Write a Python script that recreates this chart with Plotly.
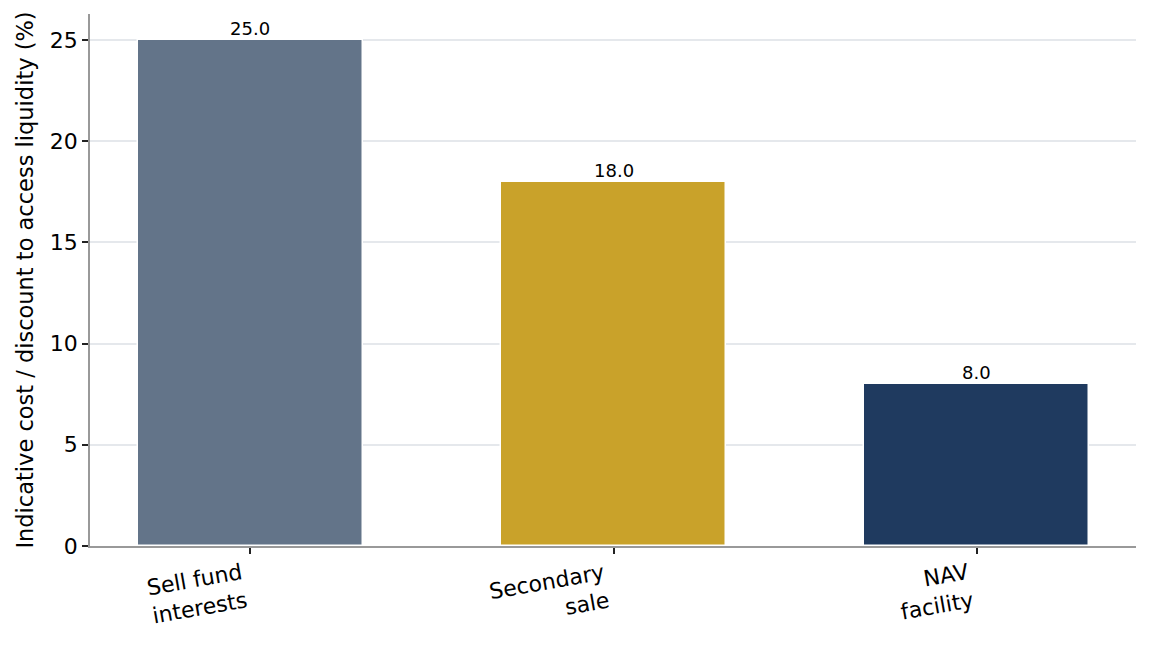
import plotly.graph_objects as go

categories = ["Sell fund<br>interests", "Secondary<br>sale", "NAV<br>facility"]
values = [25.0, 18.0, 8.0]
colors = ["#637489", "#C9A22A", "#1F3A5F"]
y_ticks = [0, 5, 10, 15, 20, 25]

font_family = "DejaVu Sans"
xs = list(range(len(categories)))

fig = go.Figure()
fig.add_trace(go.Bar(
    x=xs, y=values, width=0.62,
    marker=dict(color=colors, line=dict(color="white", width=1.5)),
    hoverinfo="skip",
))

# value labels sitting just above each bar
for i, v in enumerate(values):
    fig.add_annotation(
        x=i, y=v, xref="x", yref="y", text=f"{v:.1f}", showarrow=False,
        xanchor="center", yanchor="bottom", yshift=-1,
        font=dict(family=font_family, size=18, color="black"),
    )

# rotated category labels, right end at the tick like matplotlib ha='right'
for i, label in enumerate(categories):
    fig.add_annotation(
        x=i, y=0, xref="x", yref="paper", text=label, showarrow=False,
        textangle=-10, xanchor="right", yanchor="top", align="right",
        yshift=-11, xshift=1,
        font=dict(family=font_family, size=22, color="black"),
    )

# page body has an 8px margin, so the figure is a bit smaller than the window
fig.update_layout(
    width=1143, height=641,
    margin=dict(l=82, r=15, t=6, b=103),
    plot_bgcolor="white", paper_bgcolor="white",
    showlegend=False, bargap=0,
    font=dict(family=font_family, size=22, color="black"),
)
fig.update_xaxes(
    range=[-0.442, 2.439], tickvals=xs, ticktext=[""] * len(xs),
    showgrid=False, showline=True, linecolor="#999999", linewidth=1.5,
    ticks="outside", ticklen=6, tickcolor="#222222", tickwidth=1.5, zeroline=False,
)
fig.update_yaxes(
    range=[0, 26.28], tickvals=y_ticks,
    showgrid=True, gridcolor="#E5E8EC", gridwidth=1.6,
    showline=True, linecolor="#999999", linewidth=1.5,
    ticks="outside", ticklen=6, tickcolor="#222222", tickwidth=1.5, zeroline=False,
    tickfont=dict(family=font_family, size=22),
    title=dict(text="Indicative cost / discount to access liquidity (%)",
               font=dict(family=font_family, size=22.5), standoff=10),
)

fig.write_html("out.html")
